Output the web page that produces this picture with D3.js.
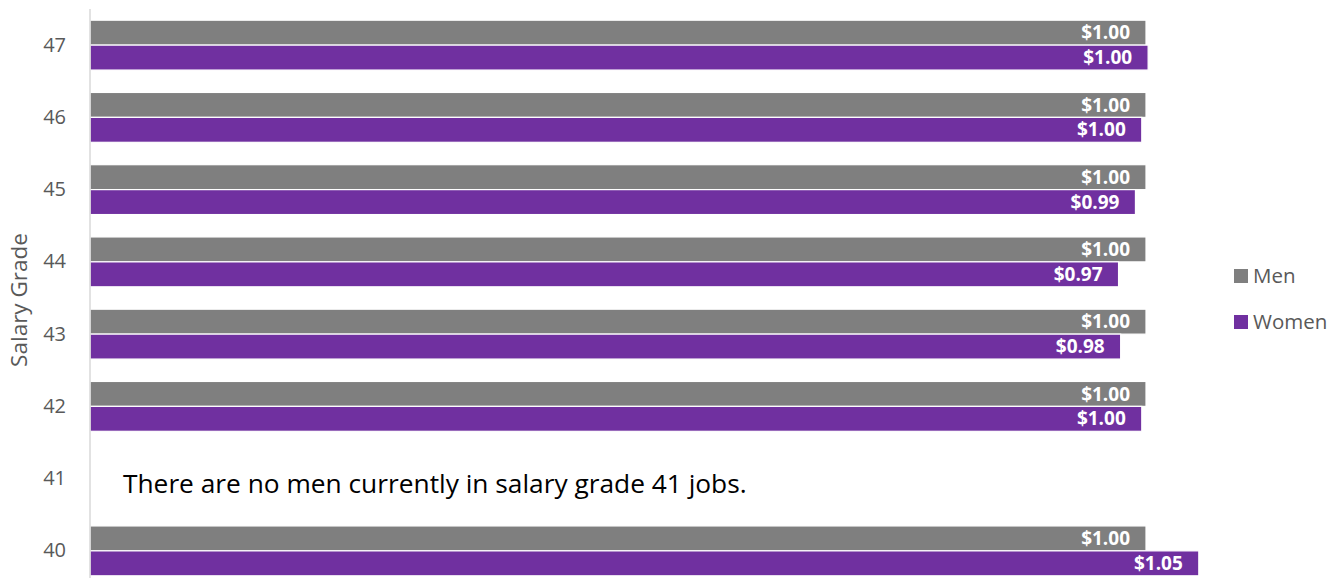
<!DOCTYPE html>
<html lang="en">
<head>
<meta charset="UTF-8"/>
<title>Salary Grade Pay Ratio</title>
<script src="https://d3js.org/d3.v7.min.js"></script>
<style>
  body { margin: 0; background: #fff; }
  svg { font-family: "Open Sans", "Noto Sans", sans-serif; }
</style>
</head>
<body>
<div id="chart"></div>
<script>
// chart data
var grades = ["47", "46", "45", "44", "43", "42", "41", "40"];
var series = ["Men", "Women"];
var menValues = [1.00, 1.00, 1.00, 1.00, 1.00, 1.00, null, 1.00];
var womenValues = [1.002, 0.996, 0.99, 0.974, 0.976, 0.996, null, 1.05];
var note = "There are no men currently in salary grade 41 jobs.";

var colors = { Men: "#7f7f7f", Women: "#7030a0" };

var width = 1343;
var height = 581;

var svg = d3.select("#chart")
  .append("svg")
  .attr("width", width)
  .attr("height", height);

// scales
var x = d3.scaleLinear()
  .domain([0, 1])
  .range([90, 1146]);

var y = d3.scaleBand()
  .domain(grades)
  .range([9, 587])
  .paddingInner(0.31)
  .paddingOuter(0.155);

var ySub = d3.scaleBand()
  .domain(series)
  .range([0, y.bandwidth()]);

// build rows
var rows = grades.map(function(g, i) {
  return { grade: g, Men: menValues[i], Women: womenValues[i] };
});

var groups = svg.selectAll("g.grade")
  .data(rows)
  .enter()
  .append("g")
  .attr("class", "grade")
  .attr("transform", function(d) { return "translate(0," + y(d.grade) + ")"; });

var bars = groups.selectAll("g.bar")
  .data(function(d) {
    return series
      .filter(function(s) { return d[s] != null; })
      .map(function(s) { return { key: s, value: d[s] }; });
  })
  .enter()
  .append("g")
  .attr("class", "bar");

bars.append("rect")
  .attr("x", x(0))
  .attr("y", function(d) { return ySub(d.key); })
  .attr("width", function(d) { return x(d.value) - x(0); })
  .attr("height", ySub.bandwidth())
  .attr("fill", function(d) { return colors[d.key]; })
  .attr("stroke", "#ffffff")
  .attr("stroke-width", 1.2);

// labels inside end
bars.append("text")
  .attr("x", function(d) { return x(d.value) - 16; })
  .attr("y", function(d) { return ySub(d.key) + ySub.bandwidth() / 2; })
  .attr("dy", "0.35em")
  .attr("text-anchor", "end")
  .attr("fill", "#ffffff")
  .style("font-size", "19px")
  .style("font-weight", "bold")
  .text(function(d) { return "$" + d.value.toFixed(2); });

// y axis
var yAxis = d3.axisLeft(y).tickSize(0).tickPadding(24);
var gAxis = svg.append("g")
  .attr("transform", "translate(" + x(0) + ",0)")
  .call(yAxis);
gAxis.select(".domain")
  .attr("stroke", "#d9d9d9")
  .attr("stroke-width", 1.5)
  .attr("d", "M0,9V578");
gAxis.selectAll("text")
  .attr("fill", "#595959")
  .style("font-size", "20px")
  .style("font-family", "'Open Sans', sans-serif");

// axis title
svg.append("text")
  .attr("transform", "translate(27,300) rotate(-90)")
  .attr("text-anchor", "middle")
  .attr("fill", "#595959")
  .style("font-size", "22.5px")
  .text("Salary Grade");

// annotation for grade 41
svg.append("text")
  .attr("x", 123)
  .attr("y", 493)
  .attr("fill", "#000000")
  .style("font-size", "26.3px")
  .text(note);

// legend
var legend = svg.selectAll("g.legend")
  .data(series)
  .enter()
  .append("g")
  .attr("class", "legend")
  .attr("transform", function(d, i) { return "translate(1234," + (269 + i * 46) + ")"; });

legend.append("rect")
  .attr("width", 14)
  .attr("height", 14)
  .attr("fill", function(d) { return colors[d]; });

legend.append("text")
  .attr("x", 19)
  .attr("y", 7)
  .attr("dy", "0.36em")
  .attr("fill", "#595959")
  .style("font-size", "20.5px")
  .text(function(d) { return d; });
</script>
</body>
</html>
